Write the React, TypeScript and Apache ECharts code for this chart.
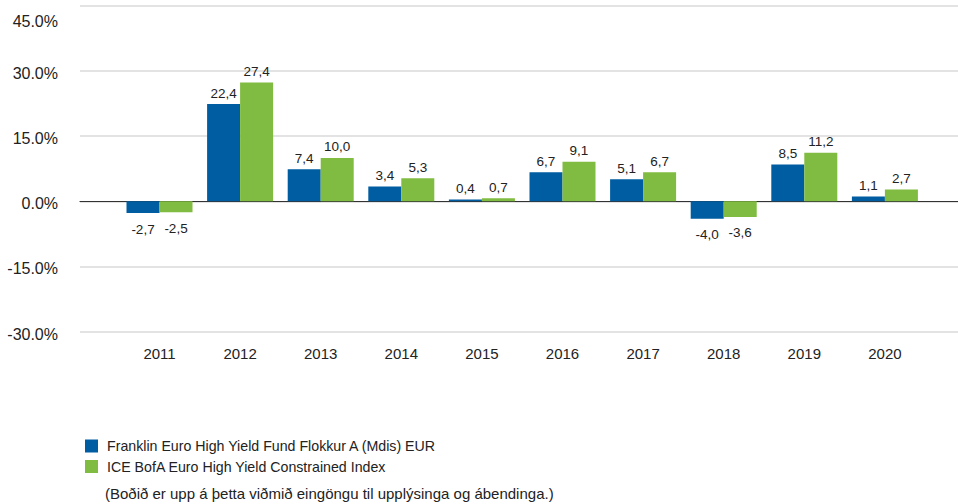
import React, { useEffect, useRef } from "react";
import * as echarts from "echarts";

const years = ["2011", "2012", "2013", "2014", "2015", "2016", "2017", "2018", "2019", "2020"];
const fundValues = [-2.7, 22.4, 7.4, 3.4, 0.4, 6.7, 5.1, -4.0, 8.5, 1.1];
const indexValues = [-2.5, 27.4, 10.0, 5.3, 0.7, 9.1, 6.7, -3.6, 11.2, 2.7];
const fundName = "Franklin Euro High Yield Fund Flokkur A (Mdis) EUR";
const indexName = "ICE BofA Euro High Yield Constrained Index";
const footnote = "(Boðið er upp á þetta viðmið eingöngu til upplýsinga og ábendinga.)";
const yMin = -30;
const yMax = 45;
const yStep = 15;

const FONT = "'Liberation Sans', Arial, sans-serif";
const TXT = "#222222";

function toItems(vals: number[]) {
  return vals.map((v) => ({
    value: v,
    label: { position: v < 0 ? "bottom" : "top", distance: v < 0 ? 9 : 4 },
  }));
}

export default function App() {
  const ref = useRef<HTMLDivElement>(null);
  useEffect(() => {
    if (!ref.current) return;
    const chart = echarts.init(ref.current, undefined, { renderer: "svg" });
    const top = 6;
    const height = 325.5;
    const labelCfg = {
      show: true,
      fontSize: 13.5,
      color: TXT,
      fontFamily: FONT,
      formatter: (p: any) => Number(p.value).toFixed(1).replace(".", ","),
    };
    chart.setOption({
      animation: false,
      textStyle: { fontFamily: FONT },
      grid: [
        { left: 80, right: 0, top, height },
        { left: 119.2, width: 806, top, height },
      ],
      xAxis: [
        {
          gridIndex: 0,
          type: "value",
          min: 0,
          max: 1,
          axisLabel: { show: false },
          axisTick: { show: false },
          splitLine: { show: false },
          axisLine: { show: true, onZero: true, lineStyle: { color: "#333333", width: 1.2 } },
        },
        {
          gridIndex: 1,
          type: "category",
          data: years,
          axisLine: { show: false, onZero: false },
          axisTick: { show: false },
          axisLabel: { fontSize: 15, color: TXT, margin: 14, fontFamily: FONT },
        },
      ],
      yAxis: [
        {
          gridIndex: 0,
          type: "value",
          min: yMin,
          max: yMax,
          interval: yStep,
          axisLine: { show: false },
          axisTick: { show: false },
          axisLabel: {
            margin: 22,
            formatter: (v: number) => (v === yMax ? "{t|" : "{n|") + v.toFixed(1) + "%}",
            rich: {
              n: { fontSize: 16, color: TXT, fontFamily: FONT, padding: [5, 0, 0, 0] },
              t: { fontSize: 16, color: TXT, fontFamily: FONT, padding: [30, 0, 0, 0] },
            },
          },
          splitLine: { lineStyle: { color: "#e3e3e3", width: 2 } },
        },
        { gridIndex: 1, type: "value", min: yMin, max: yMax, interval: yStep, show: false },
      ],
      legend: {
        orient: "vertical",
        left: 80,
        top: 434,
        itemWidth: 13,
        itemHeight: 13,
        itemGap: 6.5,
        icon: "rect",
        textStyle: { fontSize: 14.2, color: TXT, fontFamily: FONT, padding: [0, 0, 0, 4] },
        data: [fundName, indexName],
      },
      graphic: [
        {
          type: "text",
          left: 105,
          top: 486,
          style: { text: footnote, fontSize: 15, fill: TXT, fontFamily: FONT },
        },
      ],
      series: [
        {
          name: fundName,
          type: "bar",
          xAxisIndex: 1,
          yAxisIndex: 1,
          barWidth: 33,
          barGap: "0%",
          itemStyle: { color: "#005DA1" },
          label: labelCfg,
          data: toItems(fundValues),
        },
        {
          name: indexName,
          type: "bar",
          xAxisIndex: 1,
          yAxisIndex: 1,
          barWidth: 33,
          barGap: "0%",
          itemStyle: { color: "#7FBC41" },
          label: labelCfg,
          data: toItems(indexValues),
        },
      ],
    });
    return () => chart.dispose();
  }, []);
  return (
    <div
      ref={ref}
      style={{ position: "fixed", left: 0, top: 0, width: 958, height: 504, background: "#ffffff" }}
    />
  );
}
